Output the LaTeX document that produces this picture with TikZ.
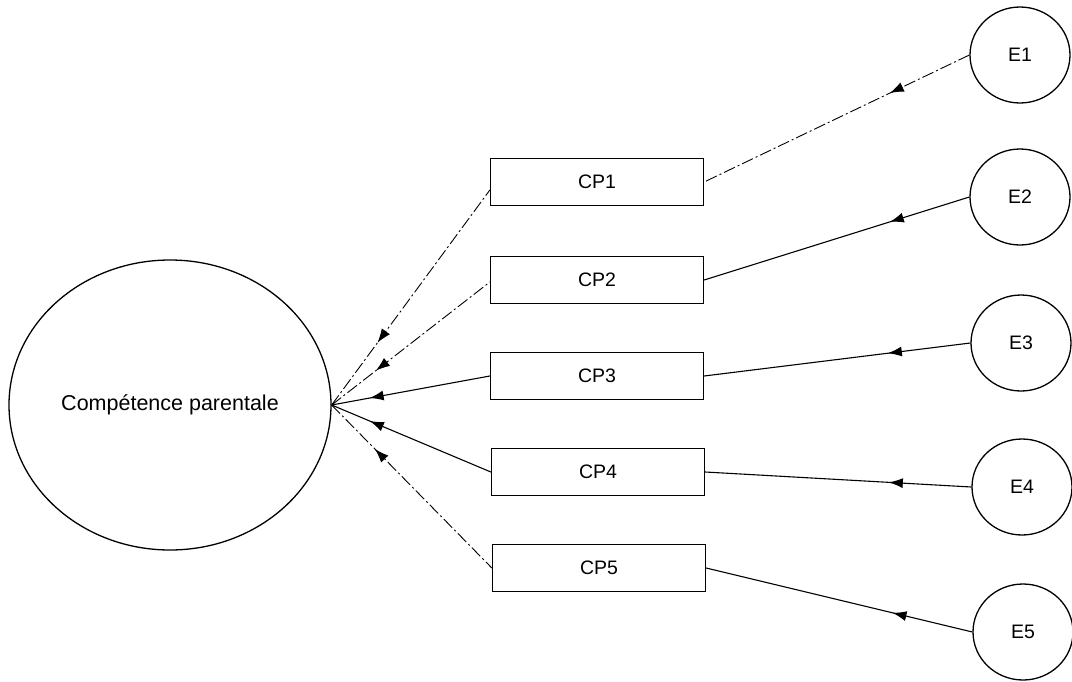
\documentclass[tikz,border=0pt]{standalone}
\usepackage{fontspec}
\setmainfont{Liberation Sans}
\usetikzlibrary{shapes.geometric,arrows.meta,decorations.markings}
\tikzset{
  itembox/.style={draw,line width=1.3pt,rectangle,minimum width=213pt,minimum height=47pt,font=\fontsize{19.5}{22}\selectfont},
  errnode/.style={draw,line width=1.3pt,ellipse,minimum width=100pt,minimum height=96pt,font=\fontsize{19.5}{22}\selectfont},
  link/.style={line width=1.1pt},
  faintlink/.style={line width=.9pt,dash pattern=on 12pt off 3pt on 2pt off 3pt},
  tohead/.style={postaction={decorate},decoration={markings,mark=at position #1 with {\arrow{Latex[length=14pt,width=10pt]}}}},
  backhead/.style={postaction={decorate},decoration={markings,mark=at position #1 with {\arrowreversed{Latex[length=14pt,width=10pt]}}}}
}
\begin{document}
\begin{tikzpicture}[x=1pt,y=-1pt]
  \useasboundingbox (0,0) rectangle (1072,681);
  \node[draw,line width=1.3pt,ellipse,minimum width=322pt,minimum height=290pt,font=\fontsize{21.5}{24}\selectfont] (lat) at (170,405) {Compétence parentale};
  \node[itembox] (cp1) at (597,182) {CP1};
  \node[itembox] (cp2) at (597,280) {CP2};
  \node[itembox] (cp3) at (597,376) {CP3};
  \node[itembox] (cp4) at (598,472) {CP4};
  \node[itembox] (cp5) at (599,568) {CP5};
  \node[errnode] (e1) at (1020,55) {E1};
  \node[errnode] (e2) at (1020,197) {E2};
  \node[errnode] (e3) at (1021,343) {E3};
  \node[errnode] (e4) at (1022,487) {E4};
  \node[errnode] (e5) at (1023,632) {E5};
  % loadings
  \draw[faintlink,backhead=.29] (lat.east) -- ([yshift=-8pt]cp1.west);
  \draw[faintlink,backhead=.28] (lat.east) -- ([yshift=-2pt]cp2.west);
  \draw[link,backhead=.24] (lat.east) -- (cp3.west);
  \draw[link,backhead=.24] (lat.east) -- (cp4.west);
  \draw[faintlink,backhead=.27] (lat.east) -- (cp5.west);
  % errors
  \draw[faintlink,tohead=.3] (e1.west) -- (cp1.east);
  \draw[link,tohead=.3] (e2.west) -- (cp2.east);
  \draw[link,tohead=.31] (e3.west) -- (cp3.east);
  \draw[link,tohead=.31] (e4.west) -- (cp4.east);
  \draw[link,tohead=.3] (e5.west) -- (cp5.east);
\end{tikzpicture}
\end{document}
